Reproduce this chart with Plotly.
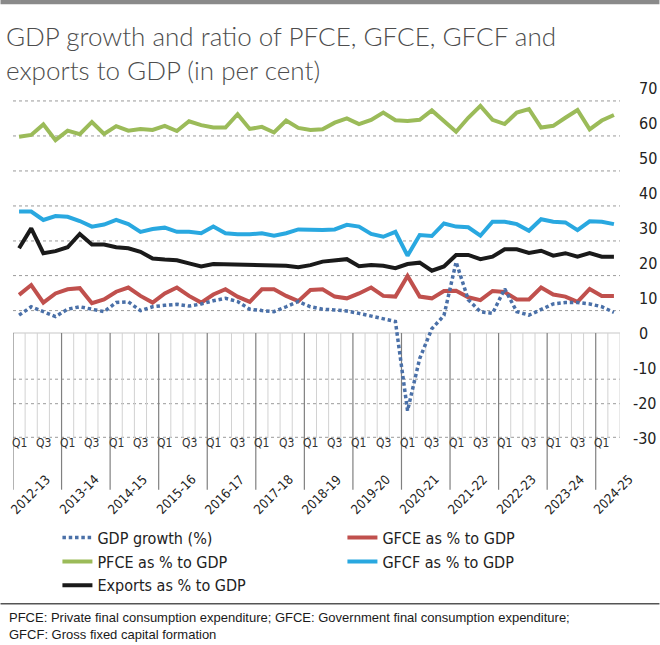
import plotly.graph_objects as go

# ---------------- data ----------------
years = ["2012-13", "2013-14", "2014-15", "2015-16", "2016-17", "2017-18", "2018-19",
         "2019-20", "2020-21", "2021-22", "2022-23", "2023-24", "2024-25"]
quarters = ["Q1", "Q2", "Q3", "Q4"]
n_points = 50
categories = [f"{y} {q}" for y in years for q in quarters][:n_points]
quarter_of = [q for y in years for q in quarters][:n_points]

gdp_growth = [5.1, 7.5, 6.1, 4.7, 6.8, 7.5, 6.8, 6.1, 8.7, 8.9, 6.4, 7.5, 7.9, 8.2, 7.7, 8.3,
              9.2, 9.9, 9.0, 6.8, 6.4, 6.1, 7.5, 9.0, 7.5, 6.8, 6.6, 6.3, 5.6, 4.9, 4.0, 3.3,
              -22.2, -7.3, 1.2, 5.0, 20.3, 9.5, 6.1, 5.6, 12.6, 6.1, 5.1, 6.6, 8.3, 8.7, 8.7,
              8.3, 7.5, 5.9]
pfce = [56.1, 56.6, 59.6, 55.1, 57.8, 56.8, 60.3, 56.9, 59.1, 57.8, 58.3, 58.0, 59.2, 57.7,
        60.5, 59.4, 58.7, 58.7, 62.5, 58.3, 58.9, 57.3, 60.7, 58.6, 58.0, 58.2, 60.1, 61.3,
        59.7, 60.9, 63.0, 60.8, 60.6, 60.9, 63.6, 60.4, 57.5, 61.5, 64.9, 60.9, 59.7, 63.0,
        64.0, 58.7, 59.2, 61.5, 63.7, 58.2, 60.7, 62.3]
gfce = [10.9, 13.7, 8.7, 11.3, 12.5, 12.8, 8.5, 9.6, 11.8, 13.0, 10.6, 8.7, 11.3, 13.0, 10.6,
        8.7, 11.0, 12.5, 10.4, 8.9, 12.5, 12.5, 10.6, 9.1, 12.3, 12.5, 10.4, 9.9, 11.3, 13.0,
        10.6, 10.4, 16.3, 10.4, 9.9, 12.0, 12.1, 10.2, 9.4, 12.0, 11.7, 9.6, 9.6, 13.0, 11.0,
        10.4, 8.9, 12.6, 10.6, 10.6]
gfcf = [34.7, 34.7, 32.3, 33.4, 33.2, 32.0, 30.4, 31.0, 32.3, 31.1, 28.9, 29.7, 30.1, 28.9,
        28.9, 28.5, 30.4, 28.5, 28.2, 28.2, 28.5, 27.8, 28.5, 29.6, 29.5, 29.4, 29.6, 30.9,
        30.4, 28.3, 27.5, 28.9, 22.1, 28.0, 27.7, 31.3, 30.4, 30.2, 27.8, 31.8, 31.8, 31.1,
        29.2, 32.5, 31.8, 31.6, 29.4, 31.9, 31.8, 31.1]
exports = [24.2, 29.9, 22.8, 23.4, 24.5, 28.3, 25.3, 25.3, 24.5, 24.2, 23.2, 21.3, 21.0, 20.8,
           19.9, 19.0, 19.7, 19.6, 19.4, 19.4, 19.4, 19.3, 19.2, 18.8, 19.4, 20.4, 20.8, 21.1,
           19.1, 19.4, 19.2, 18.5, 19.7, 20.1, 17.8, 19.0, 22.3, 22.3, 21.1, 21.8, 23.9, 23.9,
           22.9, 23.5, 22.1, 22.8, 21.8, 22.8, 21.8, 21.8]

y_ticks = [70, 60, 50, 40, 30, 20, 10, 0, -10, -20, -30]
upper_grid = [66.3, 56.3, 46.3, 36.3, 26.3, 16.4, 6.4]
lower_grid = [-13.2, -20.2, -29.8]
quarter_labels_shown = ["Q1", "Q3"]

title_text = "GDP growth and ratio of PFCE, GFCE, GFCF and<br>exports to GDP (in per cent)"
footer_text = ("PFCE: Private final consumption expenditure; GFCE: Government final consumption expenditure;"
               "<br>GFCF: Gross fixed capital formation")

# ---------------- layout geometry ----------------
W, H = 660, 645
ML, MR, MT, MB = 12.5, 39.5, 88.3, 206.7
PW, PH = W - ML - MR, H - MT - MB
Y0, Y1 = -30, 70


def py(p):  # pixel row -> paper y
    return (H - MB - p) / PH


def px_(p):  # pixel column -> paper x
    return (p - ML) / PW


def vy(v):  # data value -> paper y
    return (v - Y0) / (Y1 - Y0)


NARROW = "Liberation Sans Narrow, Arial Narrow, DejaVu Sans Condensed, Roboto Condensed, sans-serif"
SANS = "Liberation Sans, Arial, sans-serif"

fig = go.Figure()

series = [
    ("GFCE as % to GDP", gfce, "#c0504d", None, 2),
    ("GFCF as % to GDP", gfcf, "#29a8e0", None, 4),
    ("PFCE as % to GDP", pfce, "#9bbb59", None, 3),
    ("Exports as % to GDP", exports, "#1a1a1a", None, 5),
    ("GDP growth (%)", gdp_growth, "#4a70a8", "3.5px,2.8px", 1),
]
for name, vals, color, dash, rank in series:
    fig.add_trace(go.Scatter(
        x=categories, y=vals, name=name, mode="lines",
        line=dict(color=color, width=3.5 if dash else 4, dash=dash),
        legendrank=rank, hoverinfo="skip",
    ))

shapes = []
for g in upper_grid + lower_grid:
    shapes.append(dict(type="line", xref="paper", yref="paper", x0=0, x1=1, y0=vy(g), y1=vy(g),
                       line=dict(color="#9a9a9a", width=1, dash="dot"), layer="below"))
shapes.append(dict(type="line", xref="paper", yref="paper", x0=0, x1=1, y0=vy(0), y1=vy(0),
                   line=dict(color="#c8c8c8", width=1.2), layer="below"))
for k in range(n_points + 1):
    is_year = (k % 4 == 0)
    shapes.append(dict(type="line", xref="x", yref="paper", x0=k - 0.5, x1=k - 0.5,
                       y0=vy(0), y1=py(490) if is_year else vy(Y0),
                       line=dict(color="#808080" if is_year else "#d2d2d2", width=1.2 if is_year else 1),
                       layer="below"))
shapes.append(dict(type="rect", xref="paper", yref="paper", x0=px_(0), x1=px_(W), y0=py(0), y1=py(4.5),
                   line=dict(width=0), fillcolor="#8a8a8a"))
shapes.append(dict(type="line", xref="paper", yref="paper", x0=px_(0), x1=px_(W), y0=py(604), y1=py(604),
                   line=dict(color="#555555", width=1.5)))

annotations = []
# title
annotations.append(dict(xref="paper", yref="paper", x=px_(3), y=py(18), text=title_text, showarrow=False,
                        xanchor="left", yanchor="top", align="left",
                        font=dict(family="Lato, Open Sans, sans-serif", size=26, color="#4d4d4d", weight=300)))
# right axis labels
for v in y_ticks:
    annotations.append(dict(xref="paper", yref="y", x=px_(638 if v >= 0 else 632), y=v, text=str(v),
                            showarrow=False, xanchor="left", yanchor="middle",
                            font=dict(family=NARROW, size=16, color="#222222")))
# quarter labels
for i, (c, q) in enumerate(zip(categories, quarter_of)):
    if q in quarter_labels_shown:
        annotations.append(dict(xref="x", yref="y", x=i, y=Y0, yshift=-5, text=q, showarrow=False,
                                xanchor="center", yanchor="middle",
                                font=dict(family=NARROW, size=12, color="#333333")))
# fiscal-year labels
for j, yname in enumerate(years):
    annotations.append(dict(xref="x", yref="y", x=4 * j - 0.5, xshift=43, y=Y0, yshift=-31,
                            text=yname, textangle=-45, showarrow=False, xanchor="right", yanchor="top",
                            font=dict(family=NARROW, size=13, color="#222222")))
# footer
annotations.append(dict(xref="paper", yref="paper", x=px_(6), y=py(608), text=footer_text, showarrow=False,
                        xanchor="left", yanchor="top", align="left",
                        font=dict(family=SANS, size=13, color="#1a1a1a")))

fig.update_layout(
    width=W, height=H,
    margin=dict(l=ML, r=MR, t=MT, b=MB, autoexpand=False),
    paper_bgcolor="white", plot_bgcolor="white",
    xaxis=dict(type="category", categoryorder="array", categoryarray=categories,
               range=[-0.5, n_points - 0.5], showticklabels=False, showgrid=False,
               zeroline=False, showline=False, ticks=""),
    yaxis=dict(range=[Y0, Y1], showticklabels=False, showgrid=False, zeroline=False,
               showline=False, ticks="", side="right"),
    showlegend=True,
    legend=dict(orientation="h", x=px_(57), y=py(521), xanchor="left", yanchor="top",
                entrywidth=240, entrywidthmode="pixels", traceorder="normal",
                font=dict(family=NARROW, size=16, color="#222222"), bgcolor="rgba(0,0,0,0)"),
    shapes=shapes, annotations=annotations,
)

fig.write_html("out.html", config={"displayModeBar": False},
               post_script="document.body.style.margin='0px';")
